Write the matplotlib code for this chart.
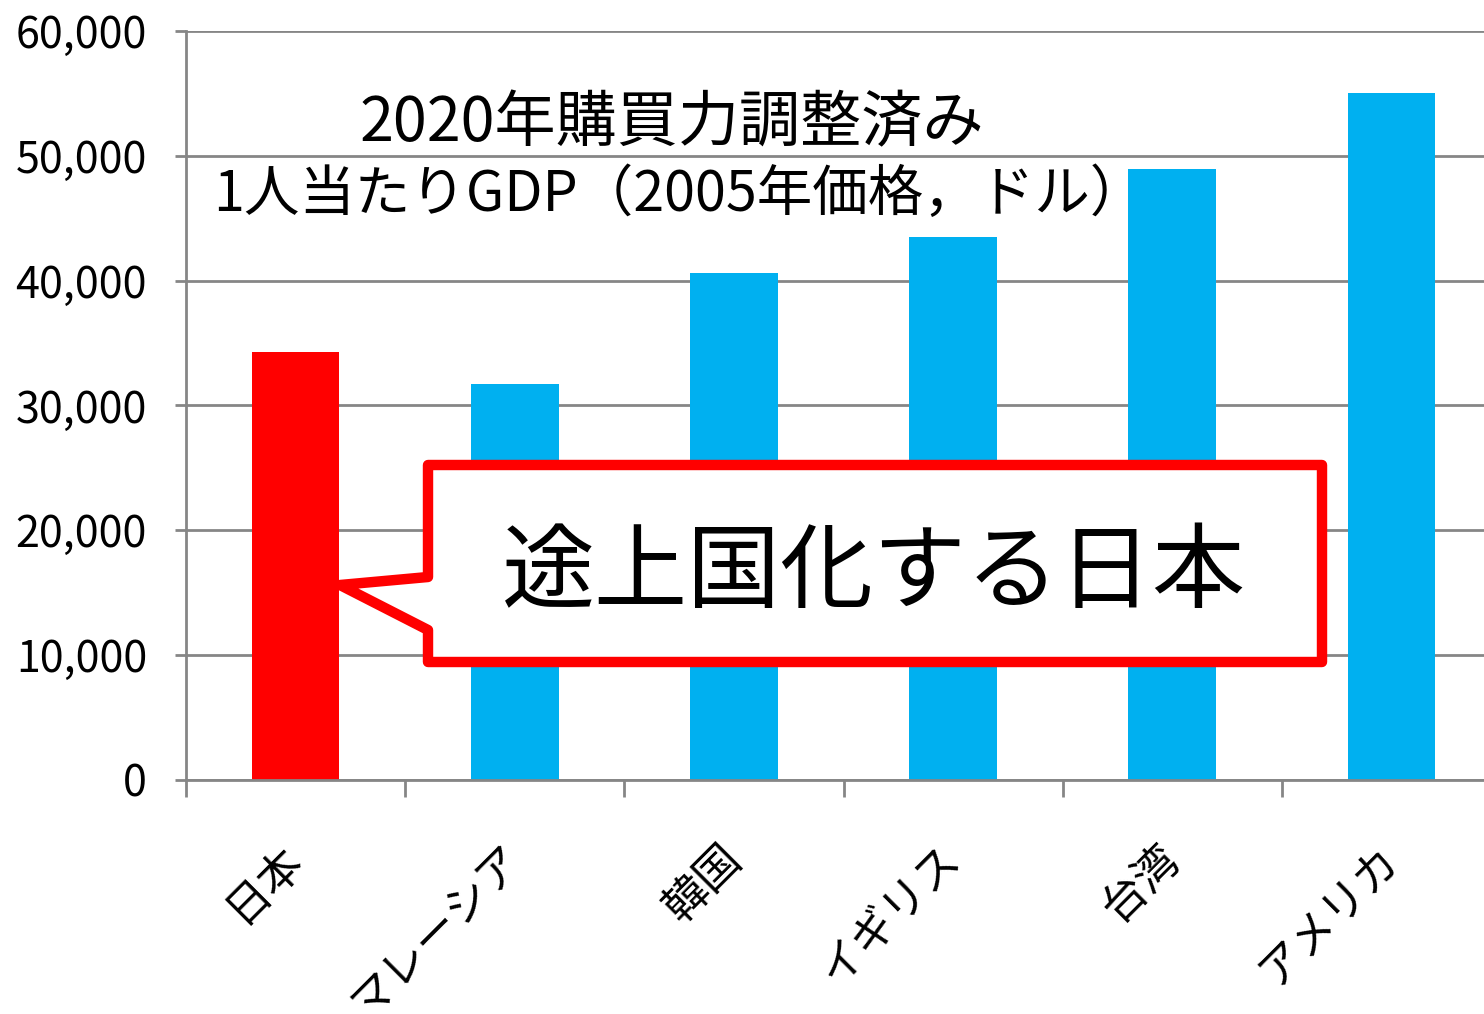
import matplotlib
matplotlib.use("Agg")
import matplotlib.pyplot as plt
from matplotlib.patches import Polygon

plt.rcParams['font.family'] = ['Noto Sans CJK JP', 'DejaVu Sans']

categories = ["日本", "マレーシア", "韓国", "イギリス", "台湾", "アメリカ"]
values = [34300, 31700, 40600, 43500, 48900, 55000]
colors = ["#FF0000", "#00B0F0", "#00B0F0", "#00B0F0", "#00B0F0", "#00B0F0"]
yticks = [0, 10000, 20000, 30000, 40000, 50000, 60000]
title_lines = ["2020年購買力調整済み", "1人当たりGDP（2005年価格，ドル）"]
callout_text = "途上国化する日本"

W, H = 1484, 1014
fig = plt.figure(figsize=(W / 100, H / 100), dpi=100)
ax = fig.add_axes([0.1253, 0.2308, 0.8862, 0.7387])

x = list(range(len(categories)))
ax.bar(x, values, width=0.4, color=colors, zorder=2)
ax.set_xlim(-0.5, len(categories) - 0.5)
ax.set_ylim(0, 60000)
ax.set_yticks(yticks)
ax.set_yticklabels([f"{v:,}" for v in yticks], fontsize=31)
ax.yaxis.grid(True, color="#868686", linewidth=2, zorder=0)
ax.set_axisbelow(True)

ax.set_xticks([i - 0.5 for i in range(len(categories) + 1)])
ax.set_xticklabels([])
ax.set_xticks(x, minor=True)
ax.set_xticklabels(categories, minor=True, rotation=45, ha='right', va='center',
                   rotation_mode='anchor', fontsize=32)
ax.tick_params(axis='x', which='minor', length=0, pad=52)
ax.tick_params(axis='x', which='major', length=12, width=2, color="#868686")
ax.tick_params(axis='y', length=8, width=2, color="#868686", pad=20)

for s in ["top", "right"]:
    ax.spines[s].set_visible(False)
for s in ["left", "bottom"]:
    ax.spines[s].set_color("#868686")
    ax.spines[s].set_linewidth(2)

fig.text(672 / W, 1 - 124 / H, title_lines[0], fontsize=44, ha='center', va='center')
fig.text(213 / W, 1 - 195 / H, title_lines[1], fontsize=40, ha='left', va='center')

# callout box in figure coordinates
pts_px = [(428, 465), (1322, 465), (1322, 662), (428, 662), (428, 630), (340, 585), (428, 577)]
pts = [(px / W, 1 - py / H) for px, py in pts_px]
poly = Polygon(pts, closed=True, transform=fig.transFigure, facecolor="white",
               edgecolor="#FF0000", linewidth=7.5, joinstyle='round', zorder=5)
fig.add_artist(poly)
fig.text(874 / W, 1 - 574 / H, callout_text, fontsize=67, ha='center', va='center', zorder=6)

fig.savefig("out.png", dpi=100)
